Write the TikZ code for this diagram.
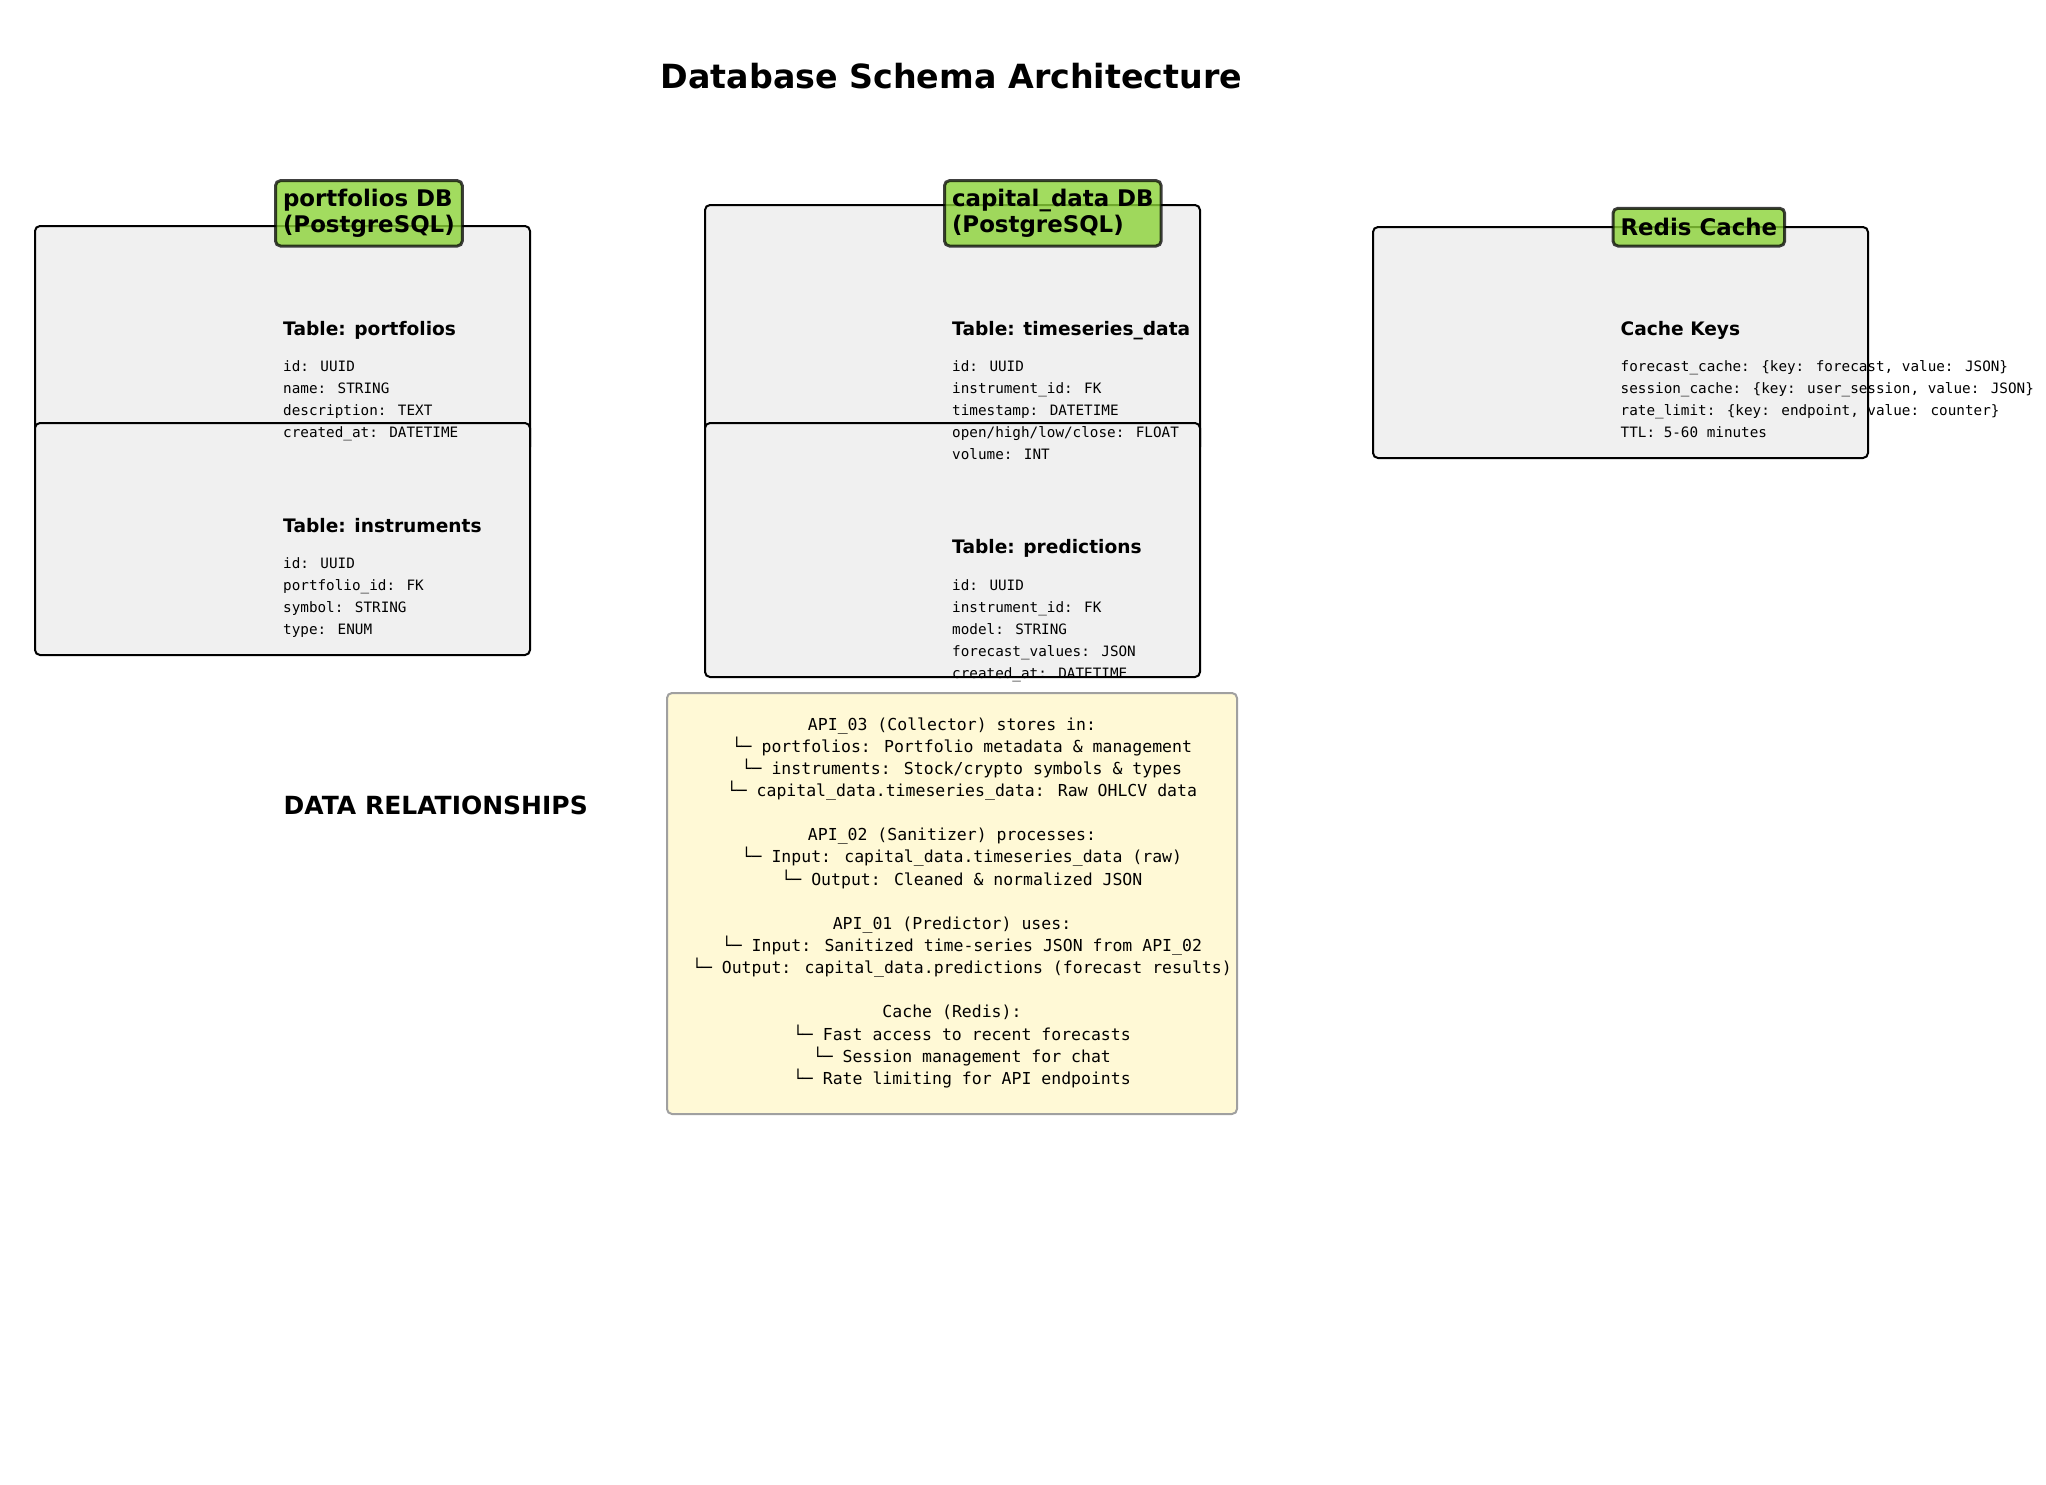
\documentclass[tikz,border=0pt]{standalone}
\usepackage{fontspec}
\setmainfont{DejaVu Sans}
\newfontfamily\monofont{DejaVu Sans Mono}

\definecolor{tablefill}{RGB}{240,240,240}
\definecolor{dbgreen}{RGB}{139,211,55}
\definecolor{notefill}{RGB}{255,249,214}
\definecolor{noteedge}{RGB}{160,160,160}

\begin{document}
\begin{tikzpicture}[x=1pt,y=-1pt,
  tablebox/.style={draw=black, line width=2pt, fill=tablefill, rounded corners=5pt,
    minimum width=495pt, inner sep=0pt, outer sep=0pt, anchor=north west},
  dblabel/.style={draw=black, draw opacity=0.75, fill=dbgreen, fill opacity=0.8,
    text opacity=1, line width=3pt, rounded corners=5pt, inner xsep=7.5pt,
    inner ysep=10pt, outer sep=0pt, align=left, anchor=south west,
    font=\fontsize{22.9}{26}\selectfont\bfseries},
  twolines/.style={inner ysep=8.5pt},
  tabletitle/.style={anchor=base west, inner sep=0pt,
    font=\fontsize{18.6}{22}\selectfont\bfseries},
  fieldlist/.style={anchor=base west, inner sep=0pt,
    font=\monofont\fontsize{14.3}{22}\selectfont},
  notebox/.style={draw=noteedge, line width=2pt, fill=notefill, rounded corners=5pt,
    inner sep=0pt, outer sep=0pt, anchor=north west},
  notetext/.style={anchor=base, inner sep=0pt,
    font=\monofont\fontsize{16.5}{22.15}\selectfont}
]
\useasboundingbox (0,0) rectangle (2046,1485);

% title
\node[anchor=base, inner sep=0pt, font=\fontsize{33.3}{40}\selectfont\bfseries]
  (title) at (951.5,88.5) {Database Schema Architecture};

% table containers
\node[tablebox, minimum height=226pt] (pfBox)    at (35,226)   {};
\node[tablebox, minimum height=232pt] (instBox)  at (35,423)   {};
\node[tablebox, minimum height=247pt] (tsBox)    at (705,205)  {};
\node[tablebox, minimum height=254pt] (predBox)  at (705,423)  {};
\node[tablebox, minimum height=231pt] (cacheBox) at (1373,227) {};

% database labels
\node[dblabel, twolines] (pfLabel)  at (275.5,246) {portfolios DB\\(PostgreSQL)};
\node[dblabel, twolines] (capLabel) at (944.5,246) {capital\_data DB\\(PostgreSQL)};
\node[dblabel] (redisLabel) at (1613,246) {Redis Cache};

% portfolios DB tables
\node[tabletitle] (pfTitle) at (283,335) {Table: portfolios};
\node[fieldlist] (pfFields) at (283,371) {\begin{tabular}[t]{@{}l@{}}
id: UUID\\
name: STRING\\
description: TEXT\\
created\_at: DATETIME
\end{tabular}};

\node[tabletitle] (instTitle) at (283,532) {Table: instruments};
\node[fieldlist] (instFields) at (283,568) {\begin{tabular}[t]{@{}l@{}}
id: UUID\\
portfolio\_id: FK\\
symbol: STRING\\
type: ENUM
\end{tabular}};

% capital_data DB tables
\node[tabletitle] (tsTitle) at (952,335) {Table: timeseries\_data};
\node[fieldlist] (tsFields) at (952,371) {\begin{tabular}[t]{@{}l@{}}
id: UUID\\
instrument\_id: FK\\
timestamp: DATETIME\\
open/high/low/close: FLOAT\\
volume: INT
\end{tabular}};

\node[tabletitle] (predTitle) at (952,553) {Table: predictions};
\node[fieldlist] (predFields) at (952,590) {\begin{tabular}[t]{@{}l@{}}
id: UUID\\
instrument\_id: FK\\
model: STRING\\
forecast\_values: JSON\\
created\_at: DATETIME
\end{tabular}};

% Redis cache keys
\node[tabletitle] (cacheTitle) at (1620.5,335) {Cache Keys};
\node[fieldlist] (cacheFields) at (1620.5,371) {\begin{tabular}[t]{@{}l@{}}
forecast\_cache: \{key: forecast, value: JSON\}\\
session\_cache: \{key: user\_session, value: JSON\}\\
rate\_limit: \{key: endpoint, value: counter\}\\
TTL: 5-60 minutes
\end{tabular}};

% data relationships
\node[anchor=base west, inner sep=0pt, font=\fontsize{25}{30}\selectfont\bfseries]
  (relHead) at (283.5,814.5) {DATA RELATIONSHIPS};

\node[notebox, minimum width=570pt, minimum height=421pt] (relBox) at (667,693) {};
\node[notetext] (relText) at (952,730) {\begin{tabular}[t]{@{}c@{}}
API\_03 (Collector) stores in:\\
\phantom{xx}└─ portfolios: Portfolio metadata \& management\\
\phantom{xx}└─ instruments: Stock/crypto symbols \& types\\
\phantom{xx}└─ capital\_data.timeseries\_data: Raw OHLCV data\\
\\
API\_02 (Sanitizer) processes:\\
\phantom{xx}└─ Input: capital\_data.timeseries\_data (raw)\\
\phantom{xx}└─ Output: Cleaned \& normalized JSON\\
\\
API\_01 (Predictor) uses:\\
\phantom{xx}└─ Input: Sanitized time-series JSON from API\_02\\
\phantom{xx}└─ Output: capital\_data.predictions (forecast results)\\
\\
Cache (Redis):\\
\phantom{xx}└─ Fast access to recent forecasts\\
\phantom{xx}└─ Session management for chat\\
\phantom{xx}└─ Rate limiting for API endpoints
\end{tabular}};
\end{tikzpicture}
\end{document}
